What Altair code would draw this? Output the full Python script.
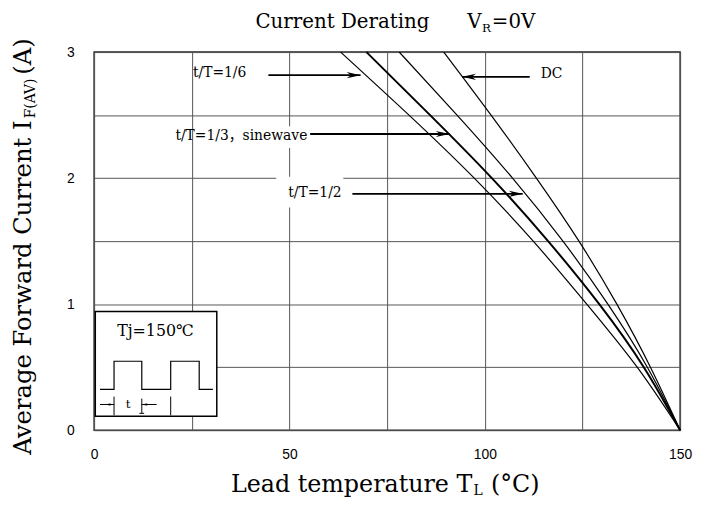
import altair as alt
import pandas as pd

# ---------------- data ----------------
currents = [3.0, 2.5, 2.0, 1.5, 1.0, 0.5, 0.0]
temp_sixth = [63.1, 80.6, 97.3, 112.4, 126.1, 139.0, 150.0]
temp_third = [69.7, 86.0, 101.8, 116.2, 129.3, 140.7, 150.0]
temp_half = [78.1, 92.9, 107.1, 120.0, 131.5, 141.6, 150.0]
temp_dc = [89.5, 101.6, 113.2, 124.1, 133.8, 142.4, 150.0]
series_names = ["t/T=1/6", "t/T=1/3", "t/T=1/2", "DC"]

x_grid = [0, 25, 50, 75, 100, 125, 150]
y_grid = [0, 0.5, 1, 1.5, 2, 2.5, 3]

# curve labels and arrows (data units)
label_texts = ["t/T=1/6", "t/T=1/3，sinewave", "t/T=1/2", "DC"]
label_t = [25.3, 20.8, 49.7, 114.3]
label_i = [2.804, 2.301, 1.850, 2.792]
arrow_from_t = [44.6, 55.3, 66.1, 111.5]
arrow_to_t = [68.2, 91.0, 109.7, 94.2]
arrow_i = [2.817, 2.35, 1.875, 2.804]

# white label backgrounds
bg_t1 = [36.7, 46.6]
bg_t2 = [54.2, 63.8]
bg_i1 = [2.238, 1.767]
bg_i2 = [2.411, 2.010]

# inset (Tj box with pulse train)
box_t = [0.3, 31.4]
box_i = [0.11, 0.942]
wave_t = [1.5, 5.1, 5.1, 12.2, 12.2, 19.6, 19.6, 26.9, 26.9, 30.4]
wave_i = [0.324, 0.324, 0.547, 0.547, 0.324, 0.324, 0.547, 0.547, 0.324, 0.324]
marker_t = [5.1, 12.2, 19.6]
marker_top = [0.267, 0.251, 0.267]
marker_bottom = [0.118, 0.134, 0.118]
inset_from_t = [1.5, 16.0]
inset_to_t = [5.1, 12.2]
inset_arrow_i = 0.204

# titles (split for subscripts)
title_texts = ["Current Derating", "V", "=0V"]
title_t = [41.3, 95.5, 101.8]
title_i = 3.19
title_sub = "R"
title_sub_t = 99.3
title_sub_i = 3.158

xtitle_main = "Lead temperature T"
xtitle_sub = "L"
xtitle_end = "(°C)"
ytitle_main = "Average Forward Current I"
ytitle_sub = "F(AV)"
ytitle_end = "(A)"

SERIF = "DejaVu Serif, Noto Sans CJK JP"
SANS = "Liberation Sans Narrow, Liberation Sans, Arial"

# ---------------- scales / helpers ----------------
xs = alt.Scale(domain=[0, 150], nice=False, zero=False)
ys = alt.Scale(domain=[0, 3], nice=False, zero=False)

x_axis = alt.Axis(values=x_grid, grid=True, labelFlush=False,
                  labelExpr="datum.value % 50 == 0 ? format(datum.value, 'd') : ''",
                  labelPadding=18, ticks=False, tickSize=0, domain=False,
                  labelFont=SANS, labelFontSize=14, labelColor="black")
y_axis = alt.Axis(values=y_grid, grid=True, labelFlush=False,
                  labelExpr="datum.value % 1 == 0 ? format(datum.value, 'd') : ''",
                  labelPadding=20, ticks=False, tickSize=0, domain=False,
                  labelFont=SANS, labelFontSize=14, labelColor="black")


def X(field):
    return alt.X(field, type="quantitative", scale=xs, axis=x_axis, title=None)


def Y(field):
    return alt.Y(field, type="quantitative", scale=ys, axis=y_axis, title=None)


rows = []
for name, temps in zip(series_names, [temp_sixth, temp_third, temp_half, temp_dc]):
    for t, i in zip(temps, currents):
        rows.append({"series": name, "T": t, "I": i})
curves = pd.DataFrame(rows)

base_curves = alt.Chart(curves)
thin = base_curves.mark_line(interpolate="natural", color="black", strokeWidth=1.2).encode(
    x=X("T"), y=Y("I"), detail="series:N"
).transform_filter(alt.datum.series != "t/T=1/3")
thick = base_curves.mark_line(interpolate="natural", color="black", strokeWidth=2).encode(
    x=X("T"), y=Y("I"), detail="series:N"
).transform_filter(alt.datum.series == "t/T=1/3")

bg = alt.Chart(pd.DataFrame({"t1": bg_t1, "t2": bg_t2, "i1": bg_i1, "i2": bg_i2})).mark_rect(
    color="white").encode(x=X("t1"), x2="t2", y=Y("i1"), y2="i2")

labels = alt.Chart(pd.DataFrame({"text": label_texts, "T": label_t, "I": label_i})).mark_text(
    font=SERIF, fontSize=14, align="left", baseline="alphabetic", color="black").encode(
    x=X("T"), y=Y("I"), text="text:N")

arrows_df = pd.DataFrame({"t0": arrow_from_t, "t1": arrow_to_t, "I": arrow_i})
shafts = alt.Chart(arrows_df).mark_rule(color="black", strokeWidth=1.8).encode(
    x=X("t0"), x2="t1", y=Y("I"))
ARROW = "M0,0L-2,-0.45L-1.4,0L-2,0.45Z"
heads = alt.Chart(arrows_df).transform_calculate(
    ang="datum.t1 < datum.t0 ? 180 : 0").mark_point(
    shape=ARROW, filled=True, color="black", size=196, opacity=1, strokeWidth=0).encode(
    x=X("t1"), y=Y("I"), angle=alt.Angle("ang:Q", scale=None))

# inset
box = alt.Chart(pd.DataFrame({"t1": [box_t[0]], "t2": [box_t[1]], "i1": [box_i[0]], "i2": [box_i[1]]})).mark_rect(
    fill="white", stroke="black", strokeWidth=1.5).encode(x=X("t1"), x2="t2", y=Y("i1"), y2="i2")
wave = alt.Chart(pd.DataFrame({"T": wave_t, "I": wave_i, "k": list(range(len(wave_t)))})).mark_line(
    color="black", strokeWidth=1.2).encode(x=X("T"), y=Y("I"), order="k:Q")
markers = alt.Chart(pd.DataFrame({"T": marker_t, "a": marker_top, "b": marker_bottom})).mark_rule(
    color="black", strokeWidth=1).encode(x=X("T"), y=Y("a"), y2="b")
small_tick = alt.Chart(pd.DataFrame({"a": [11.6], "b": [12.8], "I": [marker_bottom[1]]})).mark_rule(
    color="black", strokeWidth=1).encode(x=X("a"), x2="b", y=Y("I"))
inset_arrows_df = pd.DataFrame({"t0": inset_from_t, "t1": inset_to_t, "I": [inset_arrow_i] * 2})
inset_shafts = alt.Chart(inset_arrows_df).mark_rule(color="black", strokeWidth=1).encode(
    x=X("t0"), x2="t1", y=Y("I"))
inset_heads = alt.Chart(inset_arrows_df).transform_calculate(
    ang="datum.t1 < datum.t0 ? 180 : 0").mark_point(
    shape=ARROW, filled=True, color="black", size=36, opacity=1, strokeWidth=0).encode(
    x=X("t1"), y=Y("I"), angle=alt.Angle("ang:Q", scale=None))
inset_text = alt.Chart(pd.DataFrame({"text": ["Tj=150℃", "t"], "T": [15.7, 8.7], "I": [0.79, 0.204],
                                     "s": [16, 12]})).mark_text(
    font=SERIF, align="center", baseline="middle", color="black").encode(
    x=X("T"), y=Y("I"), text="text:N", size=alt.Size("s:Q", scale=None))

# titles
title_main = alt.Chart(pd.DataFrame({"text": title_texts, "T": title_t, "I": [title_i] * 3})).mark_text(
    font=SERIF, fontSize=20, align="left", baseline="alphabetic", color="black").encode(
    x=X("T"), y=Y("I"), text="text:N")
title_subm = alt.Chart(pd.DataFrame({"text": [title_sub], "T": [title_sub_t], "I": [title_sub_i]})).mark_text(
    font=SERIF, fontSize=12, align="left", baseline="alphabetic", color="black").encode(
    x=X("T"), y=Y("I"), text="text:N")

xt_a = alt.Chart(pd.DataFrame({"text": [xtitle_main], "T": [96.8], "I": [-0.487]})).mark_text(
    font=SERIF, fontSize=24, align="right", baseline="alphabetic", color="black").encode(
    x=X("T"), y=Y("I"), text="text:N")
xt_b = alt.Chart(pd.DataFrame({"text": [xtitle_sub], "T": [97.1], "I": [-0.5105]})).mark_text(
    font=SERIF, fontSize=14, align="left", baseline="alphabetic", color="black").encode(
    x=X("T"), y=Y("I"), text="text:N")
xt_c = alt.Chart(pd.DataFrame({"text": [xtitle_end], "T": [114.0], "I": [-0.487]})).mark_text(
    font=SERIF, fontSize=24, align="right", baseline="alphabetic", color="black").encode(
    x=X("T"), y=Y("I"), text="text:N")

yt_a = alt.Chart(pd.DataFrame({"text": [ytitle_main], "T": [-16.2], "I": [2.458]})).mark_text(
    font=SERIF, fontSize=24.5, align="right", baseline="alphabetic", angle=270, color="black").encode(
    x=X("T"), y=Y("I"), text="text:N")
yt_b = alt.Chart(pd.DataFrame({"text": [ytitle_sub], "T": [-15.2], "I": [2.474]})).mark_text(
    font=SERIF, fontSize=14, align="left", baseline="alphabetic", angle=270, color="black").encode(
    x=X("T"), y=Y("I"), text="text:N")
yt_c = alt.Chart(pd.DataFrame({"text": [ytitle_end], "T": [-16.2], "I": [2.82]})).mark_text(
    font=SERIF, fontSize=24.5, align="left", baseline="alphabetic", angle=270, color="black").encode(
    x=X("T"), y=Y("I"), text="text:N")

chart = alt.layer(
    thin, thick, bg, labels, shafts, heads,
    box, wave, markers, small_tick, inset_shafts, inset_heads, inset_text,
    title_main, title_subm, xt_a, xt_b, xt_c, yt_a, yt_b, yt_c
).properties(
    width=592, height=382,
    padding={"left": 87, "top": 42, "right": 13, "bottom": 70},
    autosize=alt.AutoSizeParams(type="none"),
    background="white",
).configure_view(stroke="#222", strokeWidth=1.5).configure_axis(
    gridColor="#555", gridWidth=1, gridOpacity=1)

chart.save("out.html", embed_options={"renderer": "svg", "actions": False})
